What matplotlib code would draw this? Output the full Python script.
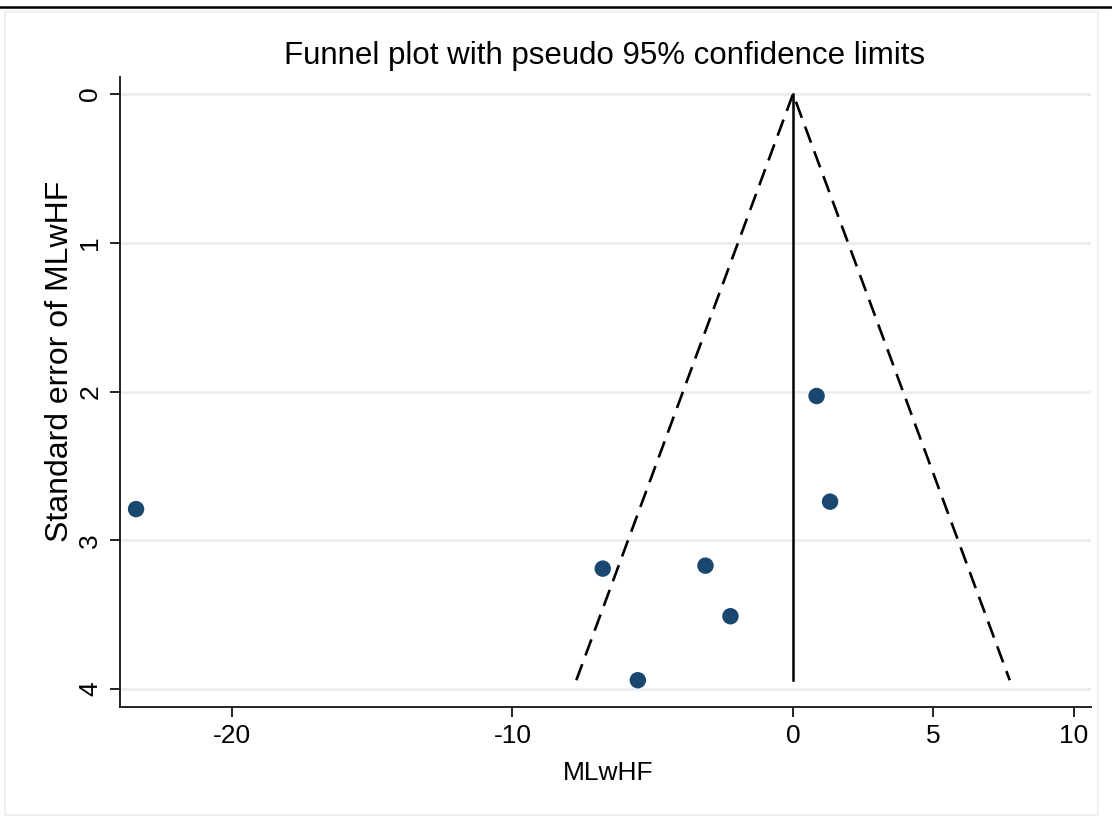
import matplotlib
matplotlib.use("Agg")
import matplotlib.pyplot as plt
import numpy as np
from matplotlib.lines import Line2D
from matplotlib.patches import Rectangle

plt.rcParams['font.family'] = ['Liberation Sans', 'DejaVu Sans']
plt.rcParams['axes.unicode_minus'] = False

# Data
effect = [-23.41, 0.84, 1.32, -6.78, -3.12, -2.23, -5.53]   # MLwHF
se = [2.79, 2.03, 2.74, 3.19, 3.17, 3.51, 3.94]             # Standard error
pooled = 0.0
x_ticks = [-20, -10, 0, 5, 10]
y_ticks = [0, 1, 2, 3, 4]

W, H = 1112, 832
fig = plt.figure(figsize=(W / 100, H / 100), dpi=100)
fig.patch.set_facecolor('white')

# axes placement (pixels)
L, R, T, B = 119.5, 1090.5, 77, 707
ax = fig.add_axes([L / W, 1 - B / H, (R - L) / W, (B - T) / H])
ax.set_facecolor('white')

se_max = max(se)
z = 1.96
ax.plot([pooled - z * se_max, pooled, pooled + z * se_max], [se_max, 0, se_max],
        color='black', linestyle=(0, (6.5, 3.5)), linewidth=1.9, zorder=3)
ax.plot([pooled, pooled], [0, se_max], color='black', linewidth=1.8, zorder=3)
ax.scatter(effect, se, s=140, color='#1a476f', edgecolors='none', zorder=4)

ax.set_xlim(-24.0, 10.6)
ax.set_ylim(4.12, -0.114)
ax.set_xticks(x_ticks)
ax.set_yticks(y_ticks)
ax.set_xticklabels([str(v) for v in x_ticks])
ax.set_yticklabels([str(v) for v in y_ticks], rotation=90, va='center')
ax.grid(axis='y', color='#e9eef0', linewidth=2.0, zorder=0)
ax.grid(axis='x', visible=False)
for s in ['top', 'right']:
    ax.spines[s].set_visible(False)
for s in ['left', 'bottom']:
    ax.spines[s].set_linewidth(1.4)
    ax.spines[s].set_color('#222222')
ax.tick_params(axis='both', direction='out', length=7.5, width=1.4, color='#222222',
               labelsize=19, pad=5)

fig.text(605 / W, 1 - 56 / H, 'Funnel plot with pseudo 95% confidence limits',
         ha='center', va='center', fontsize=22.5)
fig.text(608 / W, 1 - 773 / H, 'MLwHF', ha='center', va='center', fontsize=19)
fig.text(60 / W, 1 - 361 / H, 'Standard error of MLwHF', ha='center', va='center',
         rotation=90, fontsize=23)

# frame decorations
fig.add_artist(Line2D([0, 1], [1 - 7 / H, 1 - 7 / H], color='black', linewidth=1.8,
                      transform=fig.transFigure))
fig.add_artist(Rectangle((5 / W, 1 - 815 / H), 1093 / W, 803 / H, fill=False,
                         edgecolor='#ececec', linewidth=1.2, transform=fig.transFigure))

fig.savefig('out.png', dpi=100, facecolor='white')
